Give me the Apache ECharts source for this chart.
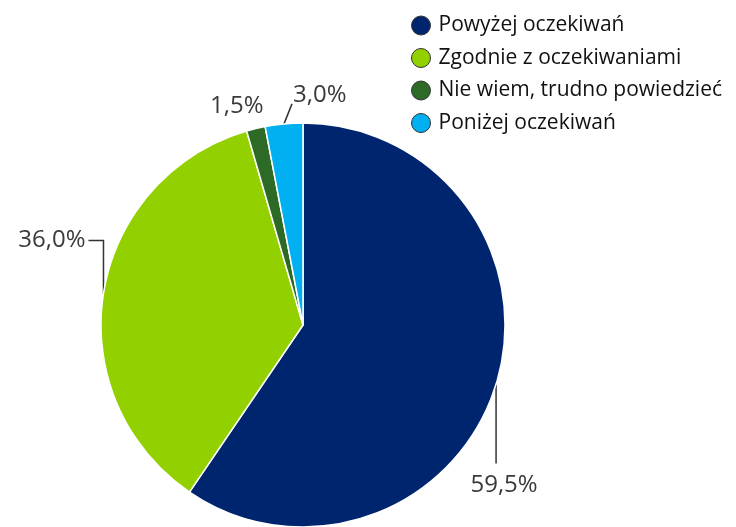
<!DOCTYPE html>
<html>
<head>
<meta charset="utf-8">
<script src="https://cdn.jsdelivr.net/npm/echarts@6.0.0/dist/echarts.min.js"></script>
<style>
  html, body { margin: 0; padding: 0; background: #fff; }
  #chart { width: 736px; height: 527px; }
</style>
</head>
<body>
<div id="chart"></div>
<script>
const categories = ["Powyżej oczekiwań", "Zgodnie z oczekiwaniami", "Nie wiem, trudno powiedzieć", "Poniżej oczekiwań"];
const values = [59.5, 36.0, 1.5, 3.0];
const colors = ["#00256f", "#92d000", "#2c6a25", "#00b0f0"];

window.addEventListener("load", function () {
  const chart = echarts.init(document.getElementById("chart"));
  const font = "Open Sans";

  // label offsets relative to the slice edge point, per slice
  const placeLabel = function (params) {
    const i = params.dataIndex;
    const pts = params.labelLinePoints;
    const p = pts ? pts[0] : [0, 0];
    if (i === 0) {
      return { x: p[0] + 8, y: p[1] + 101, align: "center", verticalAlign: "middle",
        labelLinePoints: [p, [p[0], p[1] + 79], [p[0], p[1] + 79]] };
    }
    if (i === 1) {
      return { x: p[0] - 18, y: p[1] - 53, align: "right", verticalAlign: "middle",
        labelLinePoints: [p, [p[0], p[1] - 53], [p[0] - 15, p[1] - 53]] };
    }
    if (i === 2) {
      return { x: p[0] - 19, y: p[1] - 22, align: "center", verticalAlign: "middle",
        labelLinePoints: [p, p, p] };
    }
    return { x: p[0] + 9, y: p[1] - 29, align: "left", verticalAlign: "middle",
      labelLinePoints: [p, [p[0] + 8, p[1] - 20], [p[0] + 8, p[1] - 20]] };
  };

  const option = {
    animation: false,
    color: colors,
    legend: {
      orient: "vertical",
      left: 406,
      top: 10,
      icon: "circle",
      itemWidth: 19,
      itemHeight: 19,
      itemGap: 11.5,
      itemStyle: { borderColor: "#333", borderWidth: 1 },
      textStyle: { fontFamily: font, fontSize: 21, color: "#111", padding: [0, 0, 0, 3] },
      data: categories
    },
    series: [{
      type: "pie",
      center: [303, 325],
      radius: 202,
      startAngle: 90,
      clockwise: true,
      itemStyle: { borderColor: "#fff", borderWidth: 1.5 },
      label: {
        show: true,
        position: "outside",
        fontFamily: font,
        fontSize: 24,
        color: "#3a3a3a",
        formatter: function (p) { return p.value.toFixed(1).replace(".", ",") + "%"; }
      },
      labelLine: { show: true, length: 10, length2: 10, lineStyle: { color: "#333", width: 1.5 } },
      labelLayout: placeLabel,
      emphasis: { disabled: true },
      data: categories.map(function (name, i) {
        return { name: name, value: values[i] };
      })
    }]
  };
  chart.setOption(option);
});
</script>
</body>
</html>
